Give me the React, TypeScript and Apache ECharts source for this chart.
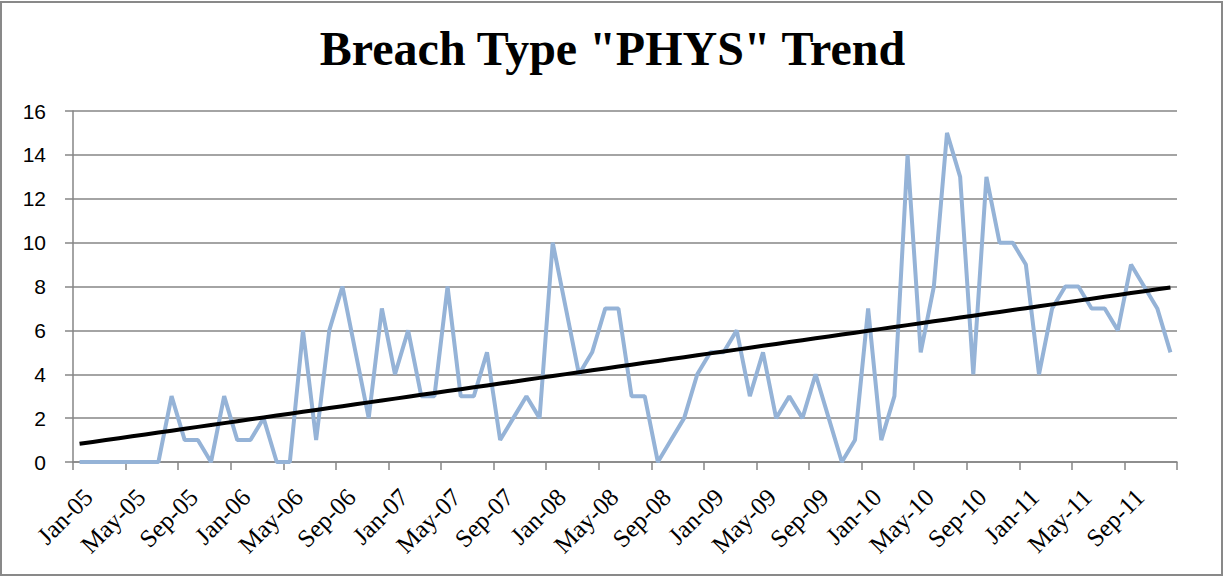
import React, { useEffect, useRef } from "react";
import * as echarts from "echarts";

const monthNames = ["Jan", "Feb", "Mar", "Apr", "May", "Jun", "Jul", "Aug", "Sep", "Oct", "Nov", "Dec"];
const yearLabels = ["05", "06", "07", "08", "09", "10", "11"];
const categories: string[] = [];
yearLabels.forEach((y) => monthNames.forEach((m) => categories.push(`${m}-${y}`)));

const physValues = [
  0, 0, 0, 0, 0, 0, 0, 3, 1, 1, 0, 3,
  1, 1, 2, 0, 0, 6, 1, 6, 8, 5, 2, 7,
  4, 6, 3, 3, 8, 3, 3, 5, 1, 2, 3, 2,
  10, 7, 4, 5, 7, 7, 3, 3, 0, 1, 2, 4,
  5, 5, 6, 3, 5, 2, 3, 2, 4, 2, 0, 1,
  7, 1, 3, 14, 5, 8, 15, 13, 4, 13, 10, 10,
  9, 4, 7, 8, 8, 7, 7, 6, 9, 8, 7, 5,
];

const yTicks = { min: 0, max: 16, interval: 2 };

// Linear trend (least squares) computed from the data
function linearTrend(vals: number[]): number[] {
  const n = vals.length;
  let sx = 0, sy = 0, sxx = 0, sxy = 0;
  vals.forEach((v, i) => {
    const x = i + 1;
    sx += x; sy += v; sxx += x * x; sxy += x * v;
  });
  const slope = (n * sxy - sx * sy) / (n * sxx - sx * sx);
  const icpt = (sy - slope * sx) / n;
  return vals.map((_, i) => slope * (i + 1) + icpt);
}

export default function App() {
  const ref = useRef<HTMLDivElement>(null);
  useEffect(() => {
    if (!ref.current) return;
    const chart = echarts.init(ref.current, undefined, { renderer: "svg" });
    const trend = linearTrend(physValues);
    chart.setOption({
      animation: false,
      backgroundColor: "#ffffff",
      title: {
        text: 'Breach Type "PHYS" Trend',
        left: "center",
        top: 19,
        textStyle: {
          fontFamily: "Liberation Serif",
          fontWeight: "bold",
          fontSize: 48,
          color: "#000000",
        },
      },
      graphic: [
        {
          type: "rect",
          shape: { x: 1, y: 2, width: 1221, height: 573 },
          style: { fill: "none", stroke: "#898989", lineWidth: 2 },
          silent: true,
        },
      ],
      grid: { left: 73, right: 48, top: 111, bottom: 115, containLabel: false },
      xAxis: {
        type: "category",
        data: categories,
        boundaryGap: true,
        axisLine: { show: true, lineStyle: { color: "#868686", width: 1.5 } },
        axisTick: { show: true, interval: 3, length: 8, lineStyle: { color: "#868686", width: 1.5 } },
        axisLabel: {
          interval: 3,
          rotate: 45,
          margin: 22,
          align: "right",
          verticalAlign: "top",
          fontFamily: "Liberation Serif",
          fontSize: 25,
          color: "#000000",
        },
        splitLine: { show: false },
      },
      yAxis: {
        type: "value",
        min: yTicks.min,
        max: yTicks.max,
        interval: yTicks.interval,
        axisLine: { show: true, lineStyle: { color: "#868686", width: 1.5 } },
        axisTick: { show: true, length: 8, lineStyle: { color: "#868686", width: 1.5 } },
        axisLabel: {
          margin: 27,
          fontFamily: "Liberation Sans",
          fontSize: 21,
          color: "#000000",
        },
        splitLine: { show: true, lineStyle: { color: "#868686", width: 1.5 } },
      },
      series: [
        {
          name: "PHYS",
          type: "line",
          data: physValues,
          symbol: "none",
          lineStyle: { color: "#95B3D7", width: 4 },
          z: 2,
        },
        {
          name: "Trend",
          type: "line",
          data: trend,
          symbol: "none",
          lineStyle: { color: "#000000", width: 4 },
          z: 3,
        },
      ],
    });
    return () => chart.dispose();
  }, []);
  return (
    <div
      ref={ref}
      style={{ position: "fixed", left: 0, top: 0, width: 1225, height: 577 }}
    />
  );
}
